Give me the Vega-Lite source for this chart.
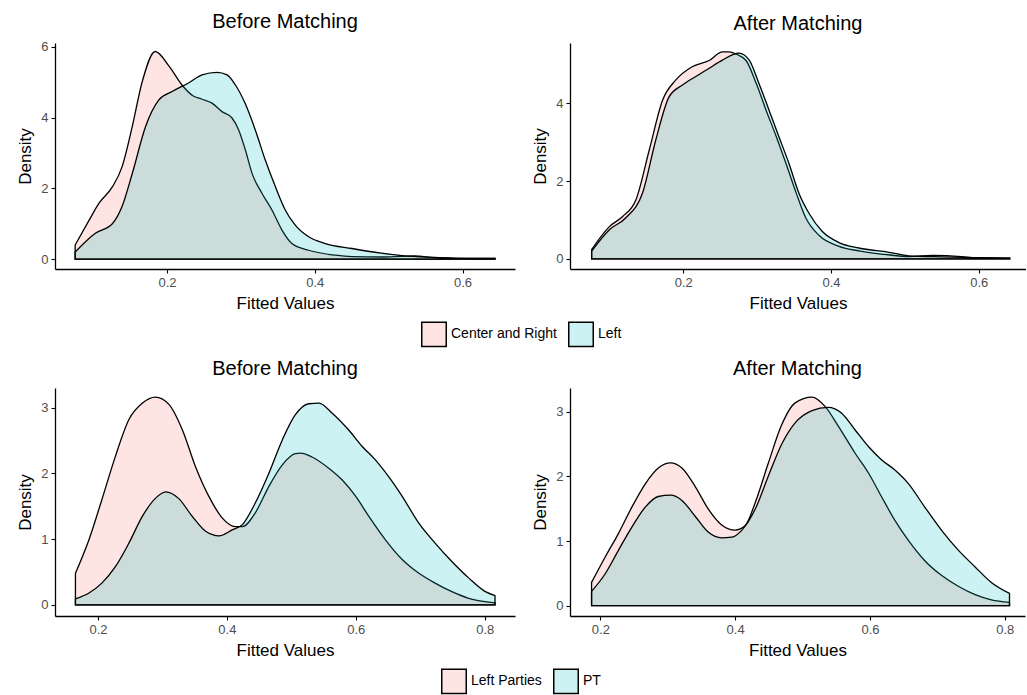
{
  "$schema": "https://vega.github.io/schema/vega-lite/v6.json",
  "background": "white",
  "padding": {"left": 16, "top": 11, "right": 0, "bottom": 0},
  "config": {
    "font": "Liberation Sans",
    "view": {"stroke": null},
    "concat": {"spacing": 16},
    "axis": {"grid": false, "domainColor": "black", "domainWidth": 1.3, "tickColor": "black", "tickWidth": 1.1, "tickSize": 4, "labelColor": "#4D4D4D", "labelFontSize": 13, "labelFont": "Liberation Sans", "labelPadding": 3, "titleFont": "Liberation Sans", "titleFontSize": 17, "titleFontWeight": "normal", "titleColor": "black", "titlePadding": 6},
    "title": {"fontSize": 20, "fontWeight": "normal", "font": "Liberation Sans", "color": "black", "anchor": "middle", "frame": "group", "offset": 9},
    "legend": {"layout": {"bottom": {"anchor": "middle"}}}
  },
  "datasets": {
    "tl": [
      {"x":0.0757,"d":0.40,"g":"Center and Right"},{"x":0.0946,"d":1.10,"g":"Center and Right"},{"x":0.108,"d":1.58,"g":"Center and Right"},{"x":0.126,"d":2.04,"g":"Center and Right"},{"x":0.139,"d":2.6,"g":"Center and Right"},{"x":0.153,"d":3.75,"g":"Center and Right"},{"x":0.166,"d":4.98,"g":"Center and Right"},{"x":0.184,"d":5.87,"g":"Center and Right"},{"x":0.203,"d":5.45,"g":"Center and Right"},{"x":0.220,"d":4.93,"g":"Center and Right"},{"x":0.235,"d":4.62,"g":"Center and Right"},{"x":0.2474,"d":4.52,"g":"Center and Right"},{"x":0.2609,"d":4.41,"g":"Center and Right"},{"x":0.2744,"d":4.17,"g":"Center and Right"},{"x":0.288,"d":3.99,"g":"Center and Right"},{"x":0.297,"d":3.65,"g":"Center and Right"},{"x":0.306,"d":3.09,"g":"Center and Right"},{"x":0.315,"d":2.43,"g":"Center and Right"},{"x":0.3285,"d":1.86,"g":"Center and Right"},{"x":0.342,"d":1.39,"g":"Center and Right"},{"x":0.3556,"d":0.82,"g":"Center and Right"},{"x":0.369,"d":0.44,"g":"Center and Right"},{"x":0.3917,"d":0.25,"g":"Center and Right"},{"x":0.4277,"d":0.11,"g":"Center and Right"},{"x":0.4503,"d":0.07,"g":"Center and Right"},{"x":0.49,"d":0.06,"g":"Center and Right"},{"x":0.518,"d":0.08,"g":"Center and Right"},{"x":0.535,"d":0.09,"g":"Center and Right"},{"x":0.562,"d":0.04,"g":"Center and Right"},{"x":0.607,"d":0.02,"g":"Center and Right"},{"x":0.644,"d":0.02,"g":"Center and Right"},
      {"x":0.0757,"d":0.2,"g":"Left"},{"x":0.103,"d":0.73,"g":"Left"},{"x":0.126,"d":1.0,"g":"Left"},{"x":0.139,"d":1.48,"g":"Left"},{"x":0.153,"d":2.42,"g":"Left"},{"x":0.171,"d":3.75,"g":"Left"},{"x":0.189,"d":4.5,"g":"Left"},{"x":0.207,"d":4.74,"g":"Left"},{"x":0.229,"d":4.98,"g":"Left"},{"x":0.2474,"d":5.21,"g":"Left"},{"x":0.2677,"d":5.28,"g":"Left"},{"x":0.2812,"d":5.21,"g":"Left"},{"x":0.2924,"d":4.93,"g":"Left"},{"x":0.306,"d":4.39,"g":"Left"},{"x":0.3195,"d":3.65,"g":"Left"},{"x":0.333,"d":2.8,"g":"Left"},{"x":0.3466,"d":2.05,"g":"Left"},{"x":0.36,"d":1.39,"g":"Left"},{"x":0.3736,"d":0.96,"g":"Left"},{"x":0.3917,"d":0.63,"g":"Left"},{"x":0.4142,"d":0.44,"g":"Left"},{"x":0.4503,"d":0.3,"g":"Left"},{"x":0.49,"d":0.17,"g":"Left"},{"x":0.518,"d":0.1,"g":"Left"},{"x":0.562,"d":0.05,"g":"Left"},{"x":0.607,"d":0.02,"g":"Left"},{"x":0.644,"d":0.02,"g":"Left"}
    ],
    "tr": [
      {"x":0.076,"d":0.24,"g":"Center and Right"},{"x":0.1,"d":0.83,"g":"Center and Right"},{"x":0.118,"d":1.09,"g":"Center and Right"},{"x":0.136,"d":1.52,"g":"Center and Right"},{"x":0.154,"d":2.8,"g":"Center and Right"},{"x":0.172,"d":4.08,"g":"Center and Right"},{"x":0.19,"d":4.6,"g":"Center and Right"},{"x":0.212,"d":4.94,"g":"Center and Right"},{"x":0.235,"d":5.1,"g":"Center and Right"},{"x":0.253,"d":5.32,"g":"Center and Right"},{"x":0.262,"d":5.32,"g":"Center and Right"},{"x":0.272,"d":5.26,"g":"Center and Right"},{"x":0.285,"d":5.1,"g":"Center and Right"},{"x":0.299,"d":4.5,"g":"Center and Right"},{"x":0.312,"d":3.83,"g":"Center and Right"},{"x":0.326,"d":3.14,"g":"Center and Right"},{"x":0.339,"d":2.46,"g":"Center and Right"},{"x":0.353,"d":1.69,"g":"Center and Right"},{"x":0.366,"d":1.05,"g":"Center and Right"},{"x":0.384,"d":0.6,"g":"Center and Right"},{"x":0.41,"d":0.33,"g":"Center and Right"},{"x":0.44,"d":0.2,"g":"Center and Right"},{"x":0.48,"d":0.1,"g":"Center and Right"},{"x":0.505,"d":0.06,"g":"Center and Right"},{"x":0.537,"d":0.09,"g":"Center and Right"},{"x":0.577,"d":0.06,"g":"Center and Right"},{"x":0.595,"d":0.03,"g":"Center and Right"},{"x":0.642,"d":0.02,"g":"Center and Right"},
      {"x":0.076,"d":0.2,"g":"Left"},{"x":0.1,"d":0.75,"g":"Left"},{"x":0.122,"d":1.05,"g":"Left"},{"x":0.145,"d":1.7,"g":"Left"},{"x":0.163,"d":3.07,"g":"Left"},{"x":0.181,"d":4.17,"g":"Left"},{"x":0.199,"d":4.47,"g":"Left"},{"x":0.217,"d":4.69,"g":"Left"},{"x":0.235,"d":4.9,"g":"Left"},{"x":0.253,"d":5.11,"g":"Left"},{"x":0.2754,"d":5.29,"g":"Left"},{"x":0.2889,"d":5.12,"g":"Left"},{"x":0.3025,"d":4.51,"g":"Left"},{"x":0.316,"d":3.83,"g":"Left"},{"x":0.3295,"d":3.14,"g":"Left"},{"x":0.343,"d":2.46,"g":"Left"},{"x":0.3566,"d":1.69,"g":"Left"},{"x":0.37,"d":1.18,"g":"Left"},{"x":0.388,"d":0.71,"g":"Left"},{"x":0.4107,"d":0.42,"g":"Left"},{"x":0.4378,"d":0.28,"g":"Left"},{"x":0.4784,"d":0.17,"g":"Left"},{"x":0.505,"d":0.08,"g":"Left"},{"x":0.55,"d":0.05,"g":"Left"},{"x":0.595,"d":0.03,"g":"Left"},{"x":0.642,"d":0.02,"g":"Left"}
    ],
    "bl": [
      {"x":0.165,"d":0.48,"g":"Left Parties"},{"x":0.186,"d":0.99,"g":"Left Parties"},{"x":0.206,"d":1.6,"g":"Left Parties"},{"x":0.227,"d":2.26,"g":"Left Parties"},{"x":0.248,"d":2.82,"g":"Left Parties"},{"x":0.269,"d":3.07,"g":"Left Parties"},{"x":0.289,"d":3.16,"g":"Left Parties"},{"x":0.31,"d":3.05,"g":"Left Parties"},{"x":0.331,"d":2.66,"g":"Left Parties"},{"x":0.351,"d":2.11,"g":"Left Parties"},{"x":0.372,"d":1.65,"g":"Left Parties"},{"x":0.393,"d":1.32,"g":"Left Parties"},{"x":0.413,"d":1.19,"g":"Left Parties"},{"x":0.424,"d":1.19,"g":"Left Parties"},{"x":0.444,"d":1.4,"g":"Left Parties"},{"x":0.465,"d":1.8,"g":"Left Parties"},{"x":0.486,"d":2.13,"g":"Left Parties"},{"x":0.506,"d":2.3,"g":"Left Parties"},{"x":0.515,"d":2.31,"g":"Left Parties"},{"x":0.532,"d":2.25,"g":"Left Parties"},{"x":0.558,"d":2.08,"g":"Left Parties"},{"x":0.579,"d":1.9,"g":"Left Parties"},{"x":0.6,"d":1.65,"g":"Left Parties"},{"x":0.62,"d":1.35,"g":"Left Parties"},{"x":0.646,"d":0.99,"g":"Left Parties"},{"x":0.672,"d":0.69,"g":"Left Parties"},{"x":0.698,"d":0.48,"g":"Left Parties"},{"x":0.723,"d":0.33,"g":"Left Parties"},{"x":0.749,"d":0.2,"g":"Left Parties"},{"x":0.775,"d":0.1,"g":"Left Parties"},{"x":0.816,"d":0.03,"g":"Left Parties"},
      {"x":0.165,"d":0.09,"g":"PT"},{"x":0.186,"d":0.18,"g":"PT"},{"x":0.206,"d":0.33,"g":"PT"},{"x":0.227,"d":0.58,"g":"PT"},{"x":0.248,"d":0.94,"g":"PT"},{"x":0.269,"d":1.35,"g":"PT"},{"x":0.289,"d":1.62,"g":"PT"},{"x":0.305,"d":1.72,"g":"PT"},{"x":0.325,"d":1.62,"g":"PT"},{"x":0.346,"d":1.35,"g":"PT"},{"x":0.367,"d":1.12,"g":"PT"},{"x":0.388,"d":1.05,"g":"PT"},{"x":0.408,"d":1.14,"g":"PT"},{"x":0.424,"d":1.22,"g":"PT"},{"x":0.444,"d":1.55,"g":"PT"},{"x":0.465,"d":2.0,"g":"PT"},{"x":0.486,"d":2.51,"g":"PT"},{"x":0.506,"d":2.89,"g":"PT"},{"x":0.527,"d":3.06,"g":"PT"},{"x":0.543,"d":3.07,"g":"PT"},{"x":0.563,"d":2.92,"g":"PT"},{"x":0.589,"d":2.66,"g":"PT"},{"x":0.61,"d":2.41,"g":"PT"},{"x":0.63,"d":2.21,"g":"PT"},{"x":0.651,"d":1.95,"g":"PT"},{"x":0.672,"d":1.65,"g":"PT"},{"x":0.698,"d":1.24,"g":"PT"},{"x":0.723,"d":0.94,"g":"PT"},{"x":0.749,"d":0.66,"g":"PT"},{"x":0.775,"d":0.41,"g":"PT"},{"x":0.801,"d":0.2,"g":"PT"},{"x":0.816,"d":0.14,"g":"PT"}
    ],
    "br": [
      {"x":0.187,"d":0.36,"g":"Left Parties"},{"x":0.207,"d":0.75,"g":"Left Parties"},{"x":0.227,"d":1.12,"g":"Left Parties"},{"x":0.247,"d":1.53,"g":"Left Parties"},{"x":0.267,"d":1.89,"g":"Left Parties"},{"x":0.286,"d":2.13,"g":"Left Parties"},{"x":0.304,"d":2.21,"g":"Left Parties"},{"x":0.321,"d":2.13,"g":"Left Parties"},{"x":0.341,"d":1.84,"g":"Left Parties"},{"x":0.36,"d":1.5,"g":"Left Parties"},{"x":0.38,"d":1.25,"g":"Left Parties"},{"x":0.4,"d":1.17,"g":"Left Parties"},{"x":0.415,"d":1.24,"g":"Left Parties"},{"x":0.43,"d":1.6,"g":"Left Parties"},{"x":0.449,"d":2.2,"g":"Left Parties"},{"x":0.469,"d":2.8,"g":"Left Parties"},{"x":0.489,"d":3.14,"g":"Left Parties"},{"x":0.514,"d":3.23,"g":"Left Parties"},{"x":0.533,"d":3.09,"g":"Left Parties"},{"x":0.553,"d":2.78,"g":"Left Parties"},{"x":0.578,"d":2.36,"g":"Left Parties"},{"x":0.598,"d":2.05,"g":"Left Parties"},{"x":0.617,"d":1.69,"g":"Left Parties"},{"x":0.637,"d":1.32,"g":"Left Parties"},{"x":0.657,"d":1.01,"g":"Left Parties"},{"x":0.681,"d":0.7,"g":"Left Parties"},{"x":0.706,"d":0.47,"g":"Left Parties"},{"x":0.731,"d":0.3,"g":"Left Parties"},{"x":0.756,"d":0.17,"g":"Left Parties"},{"x":0.78,"d":0.09,"g":"Left Parties"},{"x":0.807,"d":0.05,"g":"Left Parties"},
      {"x":0.187,"d":0.22,"g":"PT"},{"x":0.207,"d":0.49,"g":"PT"},{"x":0.227,"d":0.86,"g":"PT"},{"x":0.247,"d":1.22,"g":"PT"},{"x":0.267,"d":1.53,"g":"PT"},{"x":0.286,"d":1.69,"g":"PT"},{"x":0.304,"d":1.71,"g":"PT"},{"x":0.321,"d":1.63,"g":"PT"},{"x":0.341,"d":1.38,"g":"PT"},{"x":0.36,"d":1.14,"g":"PT"},{"x":0.38,"d":1.05,"g":"PT"},{"x":0.395,"d":1.06,"g":"PT"},{"x":0.41,"d":1.17,"g":"PT"},{"x":0.43,"d":1.5,"g":"PT"},{"x":0.449,"d":2.0,"g":"PT"},{"x":0.469,"d":2.5,"g":"PT"},{"x":0.489,"d":2.83,"g":"PT"},{"x":0.514,"d":3.02,"g":"PT"},{"x":0.538,"d":3.07,"g":"PT"},{"x":0.558,"d":2.98,"g":"PT"},{"x":0.578,"d":2.72,"g":"PT"},{"x":0.598,"d":2.46,"g":"PT"},{"x":0.617,"d":2.26,"g":"PT"},{"x":0.637,"d":2.1,"g":"PT"},{"x":0.657,"d":1.89,"g":"PT"},{"x":0.681,"d":1.53,"g":"PT"},{"x":0.706,"d":1.17,"g":"PT"},{"x":0.731,"d":0.86,"g":"PT"},{"x":0.756,"d":0.6,"g":"PT"},{"x":0.78,"d":0.36,"g":"PT"},{"x":0.807,"d":0.19,"g":"PT"}
    ]
  },
  "vconcat": [
    {
      "hconcat": [
        {
          "title": "Before Matching",
          "width": 460, "height": 226,
          "data": {"name": "tl"},
          "mark": {"type": "area", "stroke": "black", "strokeWidth": 1.3, "interpolate": "monotone"},
          "encoding": {
            "x": {"field": "x", "type": "quantitative", "scale": {"domain": [0.0484, 0.671], "nice": false, "zero": false}, "axis": {"values": [0.2, 0.4, 0.6], "format": ".1f", "title": "Fitted Values"}},
            "y": {"field": "d", "type": "quantitative", "stack": null, "scale": {"domain": [-0.28, 6.11], "nice": false, "zero": false}, "axis": {"values": [0, 2, 4, 6], "format": "d", "title": "Density"}},
            "y2": {"datum": 0},
            "fill": {"field": "g", "type": "nominal", "scale": {"domain": ["Center and Right", "Left"], "range": ["rgba(248,118,109,0.2)", "rgba(0,191,196,0.2)"]},
              "legend": {"orient": "bottom", "direction": "horizontal", "title": null, "symbolType": "square", "symbolSize": 600, "symbolStrokeColor": "black", "symbolStrokeWidth": 1.5, "labelFontSize": 14, "labelFont": "Liberation Sans", "labelColor": "black", "labelOffset": 4, "columnPadding": 8, "offset": 10}}
          }
        },
        {
          "title": "After Matching",
          "width": 456, "height": 226,
          "data": {"name": "tr"},
          "mark": {"type": "area", "stroke": "black", "strokeWidth": 1.3, "interpolate": "monotone"},
          "encoding": {
            "x": {"field": "x", "type": "quantitative", "scale": {"domain": [0.0467, 0.664], "nice": false, "zero": false}, "axis": {"values": [0.2, 0.4, 0.6], "format": ".1f", "title": "Fitted Values"}},
            "y": {"field": "d", "type": "quantitative", "stack": null, "scale": {"domain": [-0.26, 5.55], "nice": false, "zero": false}, "axis": {"values": [0, 2, 4], "format": "d", "title": "Density"}},
            "y2": {"datum": 0},
            "fill": {"field": "g", "type": "nominal", "scale": {"domain": ["Center and Right", "Left"], "range": ["rgba(248,118,109,0.2)", "rgba(0,191,196,0.2)"]},
              "legend": {"orient": "bottom", "direction": "horizontal", "title": null, "symbolType": "square", "symbolSize": 600, "symbolStrokeColor": "black", "symbolStrokeWidth": 1.5, "labelFontSize": 14, "labelFont": "Liberation Sans", "labelColor": "black", "labelOffset": 4, "columnPadding": 8, "offset": 10}}
          }
        }
      ]
    },
    {
      "hconcat": [
        {
          "title": "Before Matching",
          "width": 460, "height": 228,
          "data": {"name": "bl"},
          "mark": {"type": "area", "stroke": "black", "strokeWidth": 1.3, "interpolate": "monotone"},
          "encoding": {
            "x": {"field": "x", "type": "quantitative", "scale": {"domain": [0.1333, 0.847], "nice": false, "zero": false}, "axis": {"values": [0.2, 0.4, 0.6, 0.8], "format": ".1f", "title": "Fitted Values"}},
            "y": {"field": "d", "type": "quantitative", "stack": null, "scale": {"domain": [-0.17, 3.3], "nice": false, "zero": false}, "axis": {"values": [0, 1, 2, 3], "format": "d", "title": "Density"}},
            "y2": {"datum": 0},
            "fill": {"field": "g", "type": "nominal", "scale": {"domain": ["Left Parties", "PT"], "range": ["rgba(248,118,109,0.2)", "rgba(0,191,196,0.2)"]},
              "legend": {"orient": "bottom", "direction": "horizontal", "title": null, "symbolType": "square", "symbolSize": 600, "symbolStrokeColor": "black", "symbolStrokeWidth": 1.5, "labelFontSize": 14, "labelFont": "Liberation Sans", "labelColor": "black", "labelOffset": 4, "columnPadding": 8, "offset": 10}}
          }
        },
        {
          "title": "After Matching",
          "width": 455, "height": 228,
          "data": {"name": "br"},
          "mark": {"type": "area", "stroke": "black", "strokeWidth": 1.3, "interpolate": "monotone"},
          "encoding": {
            "x": {"field": "x", "type": "quantitative", "scale": {"domain": [0.155, 0.83], "nice": false, "zero": false}, "axis": {"values": [0.2, 0.4, 0.6, 0.8], "format": ".1f", "title": "Fitted Values"}},
            "y": {"field": "d", "type": "quantitative", "stack": null, "scale": {"domain": [-0.16, 3.37], "nice": false, "zero": false}, "axis": {"values": [0, 1, 2, 3], "format": "d", "title": "Density"}},
            "y2": {"datum": 0},
            "fill": {"field": "g", "type": "nominal", "scale": {"domain": ["Left Parties", "PT"], "range": ["rgba(248,118,109,0.2)", "rgba(0,191,196,0.2)"]},
              "legend": {"orient": "bottom", "direction": "horizontal", "title": null, "symbolType": "square", "symbolSize": 600, "symbolStrokeColor": "black", "symbolStrokeWidth": 1.5, "labelFontSize": 14, "labelFont": "Liberation Sans", "labelColor": "black", "labelOffset": 4, "columnPadding": 8, "offset": 10}}
          }
        }
      ]
    }
  ],
  "spacing": 9,
  "resolve": {"scale": {"fill": "independent"}, "legend": {"fill": "independent"}}
}
